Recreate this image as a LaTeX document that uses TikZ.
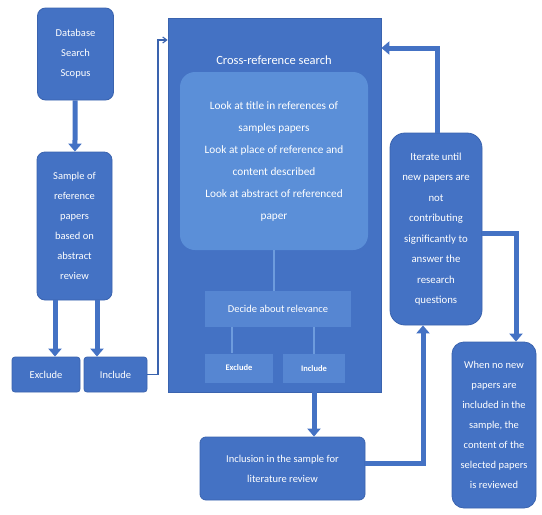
\documentclass[tikz,border=0pt]{standalone}
\usepackage{fontspec}
\setmainfont{Carlito}
\usetikzlibrary{arrows.meta,calc}
\definecolor{mainblue}{HTML}{4472C4}
\definecolor{edgeblue}{HTML}{3A63AE}
\definecolor{lightblue}{HTML}{5B8FD8}
\definecolor{midblue}{HTML}{5686D2}
\definecolor{lineblue}{HTML}{6E9CDD}
\begin{document}
\begin{tikzpicture}[x=1pt,y=-1pt,
  box/.style={draw=edgeblue,line width=0.8pt,fill=mainblue,rounded corners=8pt,inner sep=0pt,
     text=white,align=center,font=\fontsize{10.5}{20}\selectfont},
  sbox/.style={box,rounded corners=3pt},
  innerbox/.style={fill=lightblue,rounded corners=15pt,inner sep=0pt,text=white,align=center,
     font=\fontsize{11.3}{22}\selectfont},
  flatbox/.style={fill=midblue,inner sep=0pt,text=white,align=center},
  thickarrow/.style={draw=mainblue,line width=5pt,-{Triangle[width=13pt,length=8pt]}},
  thickline/.style={draw=mainblue,line width=5pt},
  thinarrow/.style={draw=edgeblue,line width=1.1pt,-{Straight Barb[length=4pt,width=6pt]}},
  innerline/.style={draw=lineblue,line width=2pt}]
\useasboundingbox (0,0) rectangle (542,515);
% left column
\node[box,minimum width=76pt,minimum height=92pt] (db) at (75.5,54) {Database\\Search\\Scopus};
\node[box,minimum width=75pt,minimum height=148pt] (sample) at (74.5,226) {Sample of\\reference\\papers\\based on\\abstract\\review};
\node[sbox,minimum width=68pt,minimum height=35pt] (excl) at (46,374.5) {Exclude};
\node[sbox,minimum width=63pt,minimum height=35pt] (incl) at (115.5,374.5) {Include};
% big box
\node[draw=edgeblue,line width=0.8pt,fill=mainblue,minimum width=213pt,minimum height=374pt,inner sep=0pt] (big) at (274.5,205) {};
\node[text=white,font=\fontsize{12.5}{14}\selectfont,inner sep=0pt] (title) at (274,60) {Cross-reference search};
\node[innerbox,minimum width=188pt,minimum height=178pt] (inner) at (274,161) {Look at title in references of\\samples papers\\Look at place of reference and\\content described\\Look at abstract of referenced\\paper};
\node[flatbox,minimum width=146pt,minimum height=36pt,font=\fontsize{10.5}{12}\selectfont] (decide) at (278,309) {Decide about relevance};
\node[flatbox,minimum width=68pt,minimum height=29pt,font=\bfseries\fontsize{8.5}{10}\selectfont] (ex2) at (239,368) {Exclude};
\node[flatbox,minimum width=62pt,minimum height=29pt,font=\bfseries\fontsize{8.5}{10}\selectfont] (in2) at (314,368.5) {Include};
% bottom and right
\node[box,rounded corners=6pt,minimum width=165pt,minimum height=63pt] (inclusion) at (282.5,468.5) {Inclusion in the sample for\\literature review};
\node[box,rounded corners=15pt,minimum width=92pt,minimum height=192pt,font=\fontsize{10.8}{20.5}\selectfont] (iter) at (436,229) {Iterate until\\new papers are\\not\\contributing\\significantly to\\answer the\\research\\questions};
\node[box,rounded corners=12pt,minimum width=84pt,minimum height=166pt] (when) at (494,425) {When no new\\papers are\\included in the\\sample, the\\content of the\\selected papers\\is reviewed};
% helper coordinates
\coordinate (ax1) at (55,0);
\coordinate (ax2) at (97,0);
\coordinate (c1) at (158,40);
\coordinate (c2) at (423,463);
\coordinate (c3) at (437,48);
\coordinate (c4) at (516,233);
\coordinate (dx) at (274,0);
\coordinate (ex2x) at (232,0);
% connectors
\draw[thickarrow] (db) -- (sample);
\draw[thickarrow] (sample.south -| ax1) -- (excl.north -| ax1);
\draw[thickarrow] (sample.south -| ax2) -- (incl.north -| ax2);
\draw[thinarrow] (incl.east) -| (c1) -- (big.west |- c1);
\draw[innerline] (inner.south -| dx) -- (decide.north -| dx);
\draw[innerline] (decide.south -| ex2x) -- (ex2.north -| ex2x);
\draw[innerline] (decide.south -| in2) -- (in2.north);
\draw[thickarrow] (big.south -| in2) -- (inclusion.north -| in2);
\draw[thickarrow] (inclusion.east |- c2) -| (iter.south -| c2);
\draw[thickarrow] (iter.north -| c3) |- (big.east |- c3);
\draw[thickarrow] (iter.east |- c4) -| (when.north -| c4);
\end{tikzpicture}
\end{document}
